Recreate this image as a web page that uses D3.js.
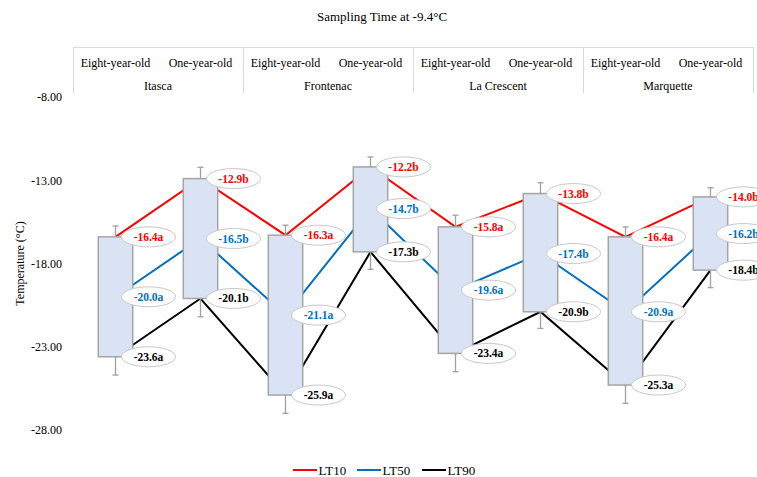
<!DOCTYPE html>
<html>
<head>
<meta charset="utf-8">
<script src="https://cdn.jsdelivr.net/npm/d3@7"></script>
<style>
  html, body { margin: 0; padding: 0; background: #fff; }
</style>
</head>
<body>
<svg id="chart" width="757" height="477"></svg>
<script>
// ---- data ----
const cultivars = ["Itasca", "Frontenac", "La Crescent", "Marquette"];
const ages = ["Eight-year-old", "One-year-old"];
const LT10 = [-16.4, -12.9, -16.3, -12.2, -15.8, -13.8, -16.4, -14.0];
const LT50 = [-20.0, -16.5, -21.1, -14.7, -19.6, -17.4, -20.9, -16.2];
const LT90 = [-23.6, -20.1, -25.9, -17.3, -23.4, -20.9, -25.3, -18.4];
const LT10letters = ["a", "b", "a", "b", "a", "b", "a", "b"];
const LT50letters = ["a", "b", "a", "b", "a", "b", "a", "b"];
const LT90letters = ["a", "b", "a", "b", "a", "b", "a", "b"];
const errUp = [0.65, 0.68, 0.6, 0.6, 0.7, 0.65, 0.6, 0.55];
const errDown = [1.1, 1.1, 1.1, 1.05, 1.1, 1.0, 1.1, 1.05];
const yTicks = [-8, -13, -18, -23, -28];
const seriesNames = ["LT10", "LT50", "LT90"];
const titleText = "Sampling Time at -9.4°C";
const yLabel = "Temperature (°C)";

(function () {
const FONT = "Liberation Serif";
const svg = d3.select("#chart").attr("font-family", FONT);
const pLeft = 73, pRight = 753, pTop = 97, pBottom = 430;
const colors = { LT10: "#ff0000", LT50: "#0070c0", LT90: "#000000" };
const grid = "#d9d9d9";

const cats = [];
cultivars.forEach(c => ages.forEach(a => cats.push(c + "|" + a)));

const x = d3.scalePoint().domain(cats).range([pLeft, pRight]).padding(0.5);
const step = x.step();
const boxW = step * 0.405;
const y = d3.scaleLinear().domain([-28, -8]).range([pBottom, pTop]);

// title
svg.append("text").attr("x", 382).attr("y", 21).attr("text-anchor", "middle")
  .attr("font-family", FONT).attr("font-size", 13).attr("fill", "#000").text(titleText);

// header table
const groupScale = d3.scaleBand().domain(cultivars).range([pLeft, pRight]);
const hdr = svg.append("g");
hdr.append("line").attr("x1", pLeft).attr("x2", pRight).attr("y1", 47.5).attr("y2", 47.5)
  .attr("stroke", grid).attr("stroke-width", 1);
const edges = cultivars.map(c => groupScale(c)).concat([pRight]);
hdr.selectAll("line.v").data(edges).join("line").attr("class", "v")
  .attr("x1", d => Math.round(d) + 0.5).attr("x2", d => Math.round(d) + 0.5)
  .attr("y1", 47).attr("y2", 93).attr("stroke", grid).attr("stroke-width", 1);
hdr.selectAll("text.age").data(cats).join("text").attr("class", "age")
  .attr("x", d => x(d)).attr("y", 67).attr("text-anchor", "middle")
  .attr("font-family", FONT).attr("font-size", 12).text(d => d.split("|")[1]);
hdr.selectAll("text.cv").data(cultivars).join("text").attr("class", "cv")
  .attr("x", d => groupScale(d) + groupScale.bandwidth() / 2).attr("y", 90)
  .attr("text-anchor", "middle").attr("font-family", FONT).attr("font-size", 12).text(d => d);

// y axis
const yAxis = d3.axisLeft(y).tickValues(yTicks).tickFormat(d => d.toFixed(2)).tickSize(0).tickPadding(0);
const ga = svg.append("g").attr("transform", `translate(62,0)`).call(yAxis);
ga.attr("font-family", FONT);
ga.select(".domain").remove();
ga.selectAll("text").attr("font-size", 12).attr("font-family", FONT).attr("fill", "#000");

svg.append("text").attr("transform", `translate(24,${(pTop + pBottom) / 2}) rotate(-90)`)
  .attr("text-anchor", "middle").attr("font-family", FONT).attr("font-size", 12).text(yLabel);

// lines
const series = { LT10, LT50, LT90 };
const lineGen = d3.line().x((d, i) => x(cats[i])).y(d => y(d));
seriesNames.forEach(s => {
  svg.append("path").datum(series[s]).attr("d", lineGen)
    .attr("fill", "none").attr("stroke", colors[s]).attr("stroke-width", 2);
});

// boxes with error bars
const boxes = svg.append("g");
const whisk = "#a0a0a0";
cats.forEach((c, i) => {
  const cx = x(c);
  const yt = y(LT10[i]), yb = y(LT90[i]);
  const yu = y(LT10[i] + errUp[i]), yd = y(LT90[i] - errDown[i]);
  boxes.append("line").attr("x1", cx).attr("x2", cx).attr("y1", yt).attr("y2", yu).attr("stroke", whisk).attr("stroke-width", 1.3);
  boxes.append("line").attr("x1", cx - 3).attr("x2", cx + 3).attr("y1", yu).attr("y2", yu).attr("stroke", whisk).attr("stroke-width", 1.3);
  boxes.append("line").attr("x1", cx).attr("x2", cx).attr("y1", yb).attr("y2", yd).attr("stroke", whisk).attr("stroke-width", 1.3);
  boxes.append("line").attr("x1", cx - 3).attr("x2", cx + 3).attr("y1", yd).attr("y2", yd).attr("stroke", whisk).attr("stroke-width", 1.3);
  boxes.append("rect").attr("x", cx - boxW / 2).attr("y", yt).attr("width", boxW).attr("height", yb - yt)
    .attr("fill", "#dae3f3").attr("stroke", "#a5a5a5").attr("stroke-width", 1.5);
});

// data labels
const letters = { LT10: LT10letters, LT50: LT50letters, LT90: LT90letters };
const lab = svg.append("g");
seriesNames.forEach(s => {
  series[s].forEach((v, i) => {
    const cx = x(cats[i]) + 33, cy = y(v);
    lab.append("ellipse").attr("cx", cx).attr("cy", cy).attr("rx", 27).attr("ry", 10)
      .attr("fill", "#fff").attr("stroke", "#c8c8c8").attr("stroke-width", 1);
    lab.append("text").attr("x", cx).attr("y", cy + 4).attr("text-anchor", "middle")
      .attr("font-family", FONT).attr("font-size", 11.5).attr("font-weight", "bold").attr("fill", colors[s])
      .text(v.toFixed(1) + letters[s][i]);
  });
});

// legend
const legX = [293, 357, 422];
const leg = svg.append("g");
seriesNames.forEach((s, i) => {
  leg.append("line").attr("x1", legX[i]).attr("x2", legX[i] + 24).attr("y1", 470).attr("y2", 470)
    .attr("stroke", colors[s]).attr("stroke-width", 2);
  leg.append("text").attr("x", legX[i] + 25.5).attr("y", 474.5)
    .attr("font-family", FONT).attr("font-size", 13).text(s);
});
})();
</script>
</body>
</html>
